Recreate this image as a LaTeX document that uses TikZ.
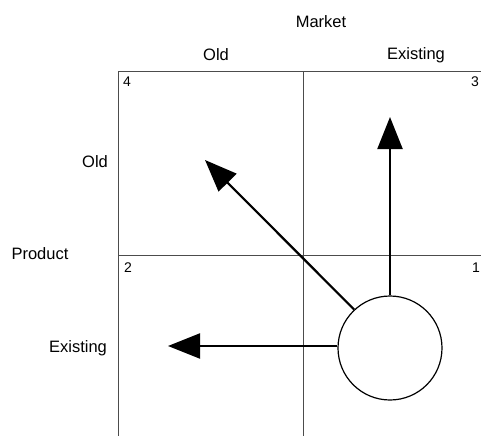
\documentclass[tikz,border=0pt]{standalone}
\usepackage{fontspec}
\setmainfont{Liberation Sans}
\usetikzlibrary{arrows.meta}

\begin{document}
\begin{tikzpicture}[x=1pt, y=-1pt,
    every node/.style={font=\fontsize{16.5}{18}\selectfont, inner sep=0pt},
    gridline/.style={line width=0.7pt, black!70},
    move/.style={line width=2.2pt, -{Triangle[length=32pt, width=25pt]}},
    corner/.style={font=\fontsize{14}{16}\selectfont}]
    \useasboundingbox (0,0) rectangle (481,436);
    % grid
    \coordinate (tl) at (118,71);
    \coordinate (tm) at (303,71);
    \coordinate (tr) at (481,71);
    \coordinate (ml) at (118,255);
    \coordinate (mr) at (481,255);
    \coordinate (bl) at (118,436);
    \coordinate (bm) at (303,436);
    \draw[gridline] (tl) -- (tr);
    \draw[gridline] (ml) -- (mr);
    \draw[gridline] (tl) -- (bl);
    \draw[gridline] (tm) -- (bm);
    % labels
    \node (market) at (321,22) {Market};
    \node (mold) at (216,55) {Old};
    \node (mexist) at (416,55) {Existing};
    \node (pold) at (95,162) {Old};
    \node (product) at (40,254) {Product};
    \node (pexist) at (78,348) {Existing};
    \node[corner] (q4) at (127,82) {4};
    \node[corner] (q3) at (475,82) {3};
    \node[corner] (q2) at (128,268) {2};
    \node[corner] (q1) at (476,268) {1};
    % circle and moves
    \node[draw, circle, line width=1.2pt, minimum size=104pt] (firm) at (390,348) {};
    \coordinate (tipup) at (390,117);
    \coordinate (tipdiag) at (205,160);
    \coordinate (tipleft) at (168,346);
    \draw[move] (firm.north) -- (tipup);
    \draw[move] (firm.133) -- (tipdiag);
    \draw[move] (firm.west |- tipleft) -- (tipleft);
\end{tikzpicture}
\end{document}
